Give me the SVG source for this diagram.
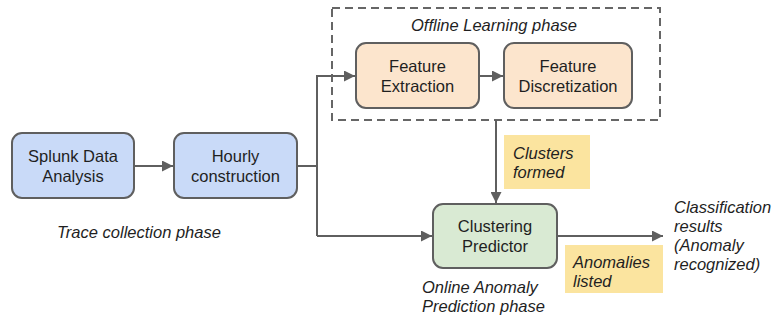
<svg xmlns="http://www.w3.org/2000/svg" width="774" height="320" viewBox="0 0 774 320">
  <style>
    .box { stroke: #5f5f5f; stroke-width: 2; }
    .blue { fill: #c9daf8; }
    .peach { fill: #fce5cd; }
    .green { fill: #d9ead3; }
    .note { fill: #fbe49f; stroke: none; }
    .lbl { font-family: "Liberation Sans", Arial, sans-serif; font-size: 16.5px; fill: #1f1f1f; text-anchor: middle; }
    .it { font-family: "Liberation Sans", Arial, sans-serif; font-size: 16.5px; font-style: italic; fill: #1f1f1f; }
    .wire { fill: none; stroke: #5f5f5f; stroke-width: 2; }
  </style>
  <defs>
    <marker id="arrow" viewBox="0 0 10 10" refX="10" refY="5" markerWidth="5.5" markerHeight="5.5" orient="auto" markerUnits="strokeWidth">
      <path d="M0,0 L10,5 L0,10 z" fill="#5f5f5f"/>
    </marker>
  </defs>

  <rect width="774" height="320" fill="#ffffff"/>

  <!-- offline learning frame -->
  <g id="offline-frame">
    <rect x="332" y="8" width="328" height="112" fill="none" stroke="#666" stroke-width="2" stroke-dasharray="8,5"/>
    <text class="it" x="411" y="31">Offline Learning phase</text>
  </g>

  <!-- annotation notes -->
  <g id="note-clusters">
    <rect class="note" x="504" y="135" width="86" height="54"/>
    <text class="it" x="513" y="159">Clusters</text>
    <text class="it" x="513" y="178">formed</text>
  </g>
  <g id="note-anomalies">
    <rect class="note" x="565" y="245" width="98" height="48"/>
    <text class="it" x="573" y="268">Anomalies</text>
    <text class="it" x="573" y="287">listed</text>
  </g>

  <!-- connectors -->
  <g id="connectors">
    <line class="wire" x1="134" y1="166" x2="173" y2="166" marker-end="url(#arrow)"/>
    <polyline class="wire" points="297,166 317,166"/>
    <polyline class="wire" points="317,236 317,76 355,76" marker-end="url(#arrow)"/>
    <polyline class="wire" points="317,236 432,236" marker-end="url(#arrow)"/>
    <line class="wire" x1="479" y1="76" x2="503" y2="76" marker-end="url(#arrow)"/>
    <line class="wire" x1="496" y1="120" x2="496" y2="203" marker-end="url(#arrow)"/>
    <line class="wire" x1="557" y1="236" x2="663" y2="236" marker-end="url(#arrow)"/>
  </g>

  <g id="splunk">
    <rect class="box blue" x="12" y="133" width="122" height="65" rx="10"/>
    <text class="lbl" x="73" y="162">Splunk Data</text>
    <text class="lbl" x="73" y="182">Analysis</text>
  </g>

  <g id="hourly">
    <rect class="box blue" x="174" y="133" width="123" height="65" rx="10"/>
    <text class="lbl" x="235.5" y="162">Hourly</text>
    <text class="lbl" x="235.5" y="182">construction</text>
  </g>

  <g id="feature-extraction">
    <rect class="box peach" x="356" y="43" width="123" height="65" rx="10"/>
    <text class="lbl" x="417.5" y="72">Feature</text>
    <text class="lbl" x="417.5" y="92">Extraction</text>
  </g>

  <g id="feature-discretization">
    <rect class="box peach" x="504" y="43" width="128" height="65" rx="10"/>
    <text class="lbl" x="568" y="72">Feature</text>
    <text class="lbl" x="568" y="92">Discretization</text>
  </g>

  <g id="clustering-predictor">
    <rect class="box green" x="433" y="204" width="124" height="64" rx="10"/>
    <text class="lbl" x="495" y="232">Clustering</text>
    <text class="lbl" x="495" y="252">Predictor</text>
  </g>

  <!-- phase captions and output -->
  <g id="captions">
    <text class="it" x="57" y="238">Trace collection phase</text>
    <text class="it" x="422" y="293">Online Anomaly</text>
    <text class="it" x="422" y="312">Prediction phase</text>
  </g>
  <g id="output">
    <text class="it" x="674" y="213">Classification</text>
    <text class="it" x="674" y="232">results</text>
    <text class="it" x="674" y="251">(Anomaly</text>
    <text class="it" x="674" y="270">recognized)</text>
  </g>
</svg>
